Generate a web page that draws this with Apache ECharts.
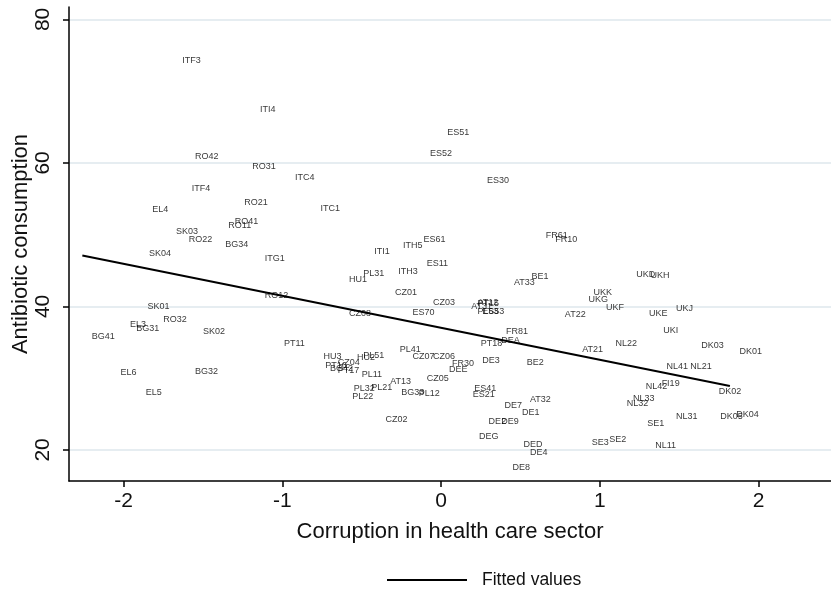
<!DOCTYPE html>
<html>
<head>
<meta charset="utf-8">
<script src="https://cdn.jsdelivr.net/npm/echarts@6/dist/echarts.min.js"></script>
<style>
  html, body { margin: 0; padding: 0; background: #fff; }
  #main { width: 831px; height: 589px; }
</style>
</head>
<body>
<div id="main"></div>
<script>
// NUTS regions, corruption score (x) and antibiotic consumption (y)
var regionNames = [
  'ITF3', 'ITI4', 'RO42', 'RO31', 'ITC4', 'ITF4', 'RO21', 'EL4', 'ITC1', 'RO41',
  'RO11', 'SK03', 'RO22', 'BG34', 'SK04', 'ITG1', 'RO12', 'SK01', 'RO32', 'EL3',
  'BG31', 'BG41', 'SK02', 'PT11', 'EL6', 'BG32', 'EL5', 'ES51', 'ES52', 'ES30',
  'ITH5', 'ES61', 'ITI1', 'ES11', 'ITH3', 'PL31', 'HU1', 'CZ01', 'BE1', 'AT33',
  'FR61', 'FR10', 'CZ03', 'ES70', 'AT12', 'PT15', 'AT31', 'PL63', 'ES53', 'UKK',
  'UKG', 'UKF', 'AT22', 'FR81', 'DEA', 'PT18', 'AT21', 'NL22', 'DE3', 'BE2',
  'CZ07', 'CZ06', 'FR30', 'DEE', 'PL41', 'CZ05', 'ES41', 'ES21', 'AT32', 'DE7',
  'DE1', 'DE2', 'DE9', 'DEG', 'DED', 'DE4', 'DE8', 'SE3', 'SE2', 'CZ08',
  'HU3', 'HU2', 'PL51', 'PT16', 'CZ04', 'BG42', 'PT17', 'PL11', 'AT13', 'PL32',
  'PL21', 'PL22', 'BG33', 'PL12', 'CZ02', 'UKD', 'UKH', 'UKE', 'UKJ', 'UKI',
  'DK03', 'DK01', 'NL41', 'NL21', 'NL42', 'FI19', 'DK02', 'NL33', 'NL32', 'NL31',
  'DK05', 'DK04', 'SE1', 'NL11'
];
var corruption = [
  -1.69, -1.20, -1.61, -1.25, -0.98, -1.63, -1.30, -1.88, -0.82, -1.36,
  -1.40, -1.73, -1.65, -1.42, -1.90, -1.17, -1.17, -1.91, -1.81, -2.02,
  -1.98, -2.26, -1.56, -1.05, -2.08, -1.61, -1.92, -0.02, -0.13, 0.23,
  -0.30, -0.17, -0.48, -0.15, -0.33, -0.55, -0.64, -0.35, 0.51, 0.40,
  0.60, 0.66, -0.11, -0.24, 0.17, 0.17, 0.13, 0.17, 0.20, 0.90,
  0.87, 0.98, 0.72, 0.35, 0.32, 0.19, 0.83, 1.04, 0.20, 0.48,
  -0.24, -0.11, 0.01, -0.01, -0.32, -0.15, 0.15, 0.14, 0.50, 0.34,
  0.45, 0.24, 0.32, 0.18, 0.46, 0.50, 0.39, 0.89, 1.00, -0.64,
  -0.80, -0.59, -0.55, -0.79, -0.71, -0.76, -0.71, -0.56, -0.38, -0.61,
  -0.50, -0.62, -0.31, -0.20, -0.41, 1.17, 1.26, 1.25, 1.42, 1.34,
  1.58, 1.82, 1.36, 1.51, 1.23, 1.33, 1.69, 1.15, 1.11, 1.42,
  1.70, 1.80, 1.24, 1.29
];
var antibiotics = [
  74.3, 67.4, 60.9, 59.5, 57.9, 56.5, 54.5, 53.5, 53.7, 51.8,
  51.3, 50.5, 49.3, 48.6, 47.4, 46.7, 41.5, 40.0, 38.2, 37.5,
  36.9, 35.8, 36.5, 34.9, 30.8, 30.9, 28.0, 64.2, 61.3, 57.6,
  48.5, 49.3, 47.6, 46.0, 44.8, 44.6, 43.7, 41.9, 44.2, 43.3,
  49.9, 49.3, 40.5, 39.2, 40.5, 40.4, 40.0, 39.3, 39.3, 42.0,
  40.9, 39.9, 38.9, 36.5, 35.3, 34.9, 34.0, 34.9, 32.5, 32.2,
  33.0, 33.0, 32.1, 31.2, 34.0, 30.0, 28.5, 27.7, 27.0, 26.2,
  25.2, 23.9, 24.0, 21.9, 20.7, 19.7, 17.5, 21.1, 21.5, 39.0,
  33.0, 32.9, 33.2, 31.7, 32.2, 31.4, 31.1, 30.5, 29.6, 28.6,
  28.7, 27.4, 28.0, 27.8, 24.3, 44.4, 44.3, 39.0, 39.7, 36.7,
  34.6, 33.7, 31.6, 31.6, 28.8, 29.2, 28.1, 27.2, 26.4, 24.6,
  24.7, 24.9, 23.7, 20.6
];

// fitted regression line endpoints
var fitX = [-2.26, 1.82];
var fitY = [47.1, 28.9];

var xTicks = [-2, -1, 0, 1, 2];
var yTicks = [20, 40, 60, 80];

var font = "'Liberation Sans', Arial, Helvetica, sans-serif";

var points = regionNames.map(function (name, i) {
  return { name: name, value: [corruption[i], antibiotics[i]] };
});
var fitted = fitX.map(function (x, i) { return [x, fitY[i]]; });

var myChart = echarts.init(document.getElementById('main'));

var option = {
  animation: false,
  textStyle: { fontFamily: font },
  grid: { left: 69, right: 0, top: 7, bottom: 108, containLabel: false, outerBoundsMode: 'none' },
  legend: {
    data: ['Fitted values'],
    left: 382,
    top: 566,
    icon: 'rect',
    itemWidth: 80,
    itemHeight: 2,
    textStyle: { fontSize: 17.5, color: '#111', fontFamily: font, padding: [0, 0, 0, 10] }
  },
  xAxis: {
    type: 'value',
    min: -2.344,
    max: 2.457,
    name: 'Corruption in health care sector',
    nameLocation: 'middle',
    nameGap: 40,
    nameMoveOverlap: false,
    nameTextStyle: { fontSize: 22, color: '#111', fontFamily: font },
    axisLine: { onZero: false, lineStyle: { color: '#000', width: 1.5 } },
    axisTick: { show: true, length: 6, customValues: xTicks, lineStyle: { color: '#000', width: 1.5 } },
    axisLabel: {
      customValues: xTicks,
      fontSize: 21,
      color: '#111',
      margin: 10,
      formatter: function (v) { return String(v); }
    },
    splitLine: { show: false }
  },
  yAxis: {
    type: 'value',
    min: 15.67,
    max: 81.73,
    name: 'Antibiotic consumption',
    nameLocation: 'middle',
    nameGap: 37,
    nameMoveOverlap: false,
    nameTextStyle: { fontSize: 22, color: '#111', fontFamily: font },
    axisLine: { show: true, onZero: false, lineStyle: { color: '#000', width: 1.5 } },
    axisTick: { show: true, length: 6, customValues: yTicks, lineStyle: { color: '#000', width: 1.5 } },
    axisLabel: {
      customValues: yTicks,
      rotate: 90,
      fontSize: 21,
      color: '#111',
      margin: 15
    },
    splitLine: { show: false }
  },
  series: [
    {
      name: 'grid',
      type: 'line',
      data: [],
      z: 0,
      silent: true,
      markLine: {
        silent: true,
        z: 0,
        symbol: 'none',
        label: { show: false },
        lineStyle: { color: '#e6edf1', width: 2, type: 'solid' },
        data: yTicks.map(function (v) { return { yAxis: v }; })
      }
    },
    {
      name: 'regions',
      type: 'scatter',
      data: points,
      symbolSize: 1,
      itemStyle: { color: 'transparent' },
      label: {
        show: true,
        position: 'right',
        distance: 9,
        formatter: '{b}',
        fontSize: 9,
        color: '#000',
        fontFamily: font
      },
      labelLayout: { hideOverlap: false },
      silent: true,
      z: 3
    },
    {
      name: 'Fitted values',
      type: 'line',
      data: fitted,
      symbol: 'none',
      lineStyle: { color: '#000', width: 2 },
      itemStyle: { color: '#000' },
      z: 2
    }
  ]
};

option && myChart.setOption(option);
</script>
</body>
</html>
